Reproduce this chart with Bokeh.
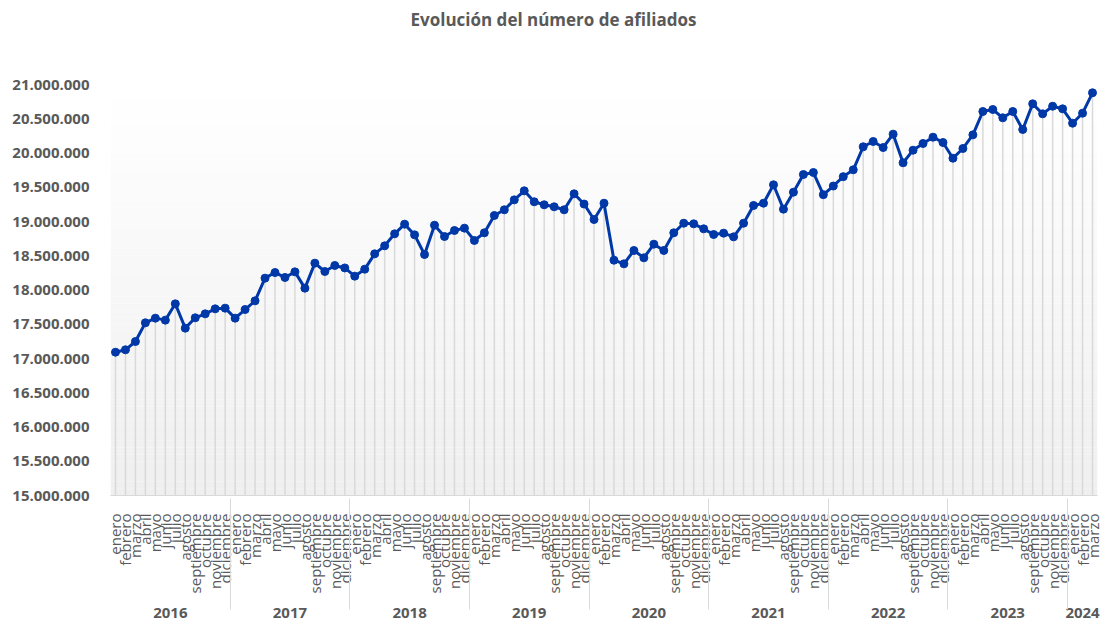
import math
from bokeh.plotting import figure
from bokeh.models import FactorRange, Range1d, FixedTicker, BoxAnnotation, Title
from bokeh.embed import file_html
from bokeh.resources import INLINE

years = ["2016", "2017", "2018", "2019", "2020", "2021", "2022", "2023", "2024"]
months = ["enero", "febrero", "marzo", "abril", "mayo", "junio", "julio", "agosto",
          "septiembre", "octubre", "noviembre", "diciembre"]

afiliados = [
    # 2016
    17092000, 17127000, 17248000, 17521000, 17589000, 17560000, 17798000, 17443000, 17594000, 17652000, 17725000, 17735000,
    # 2017
    17589000, 17715000, 17842000, 18173000, 18255000, 18183000, 18265000, 18027000, 18392000, 18270000, 18358000, 18322000,
    # 2018
    18202000, 18304000, 18528000, 18645000, 18820000, 18961000, 18805000, 18518000, 18946000, 18781000, 18869000, 18903000,
    # 2019
    18723000, 18835000, 19088000, 19171000, 19316000, 19448000, 19288000, 19244000, 19215000, 19171000, 19404000, 19255000,
    # 2020
    19029000, 19267000, 18435000, 18382000, 18577000, 18470000, 18669000, 18577000, 18835000, 18975000, 18966000, 18893000,
    # 2021
    18810000, 18830000, 18776000, 18975000, 19234000, 19267000, 19536000, 19180000, 19428000, 19686000, 19715000, 19392000,
    # 2022
    19518000, 19655000, 19755000, 20091000, 20168000, 20080000, 20275000, 19857000, 20041000, 20139000, 20231000, 20153000,
    # 2023
    19924000, 20066000, 20265000, 20606000, 20635000, 20514000, 20606000, 20343000, 20718000, 20572000, 20683000, 20645000,
    # 2024
    20435000, 20581000, 20879000,
]

y_ticks = [15000000, 15500000, 16000000, 16500000, 17000000, 17500000, 18000000,
           18500000, 19000000, 19500000, 20000000, 20500000, 21000000]
y_tick_labels = ["15.000.000", "15.500.000", "16.000.000", "16.500.000", "17.000.000",
                 "17.500.000", "18.000.000", "18.500.000", "19.000.000", "19.500.000",
                 "20.000.000", "20.500.000", "21.000.000"]

title_text = "Evolución del número de afiliados"

factors = [(y, m) for y in years for m in months][:len(afiliados)]

TEXT = "#595959"
BLUE = "#0038a8"
base = y_ticks[0]
top = y_ticks[-1]

p = figure(
    width=1104, height=626,
    x_range=FactorRange(*factors, factor_padding=0, group_padding=0, subgroup_padding=0, range_padding=0),
    y_range=Range1d(base, top),
    output_backend="svg", toolbar_location=None,
    min_border_left=110, min_border_right=7, min_border_top=84, min_border_bottom=131,
)
p.outline_line_color = None
p.background_fill_color = "white"
p.xgrid.grid_line_color = None
p.ygrid.grid_line_color = None

# gradient background of the plot area
nb = 60
for i in range(nb):
    b0 = base + (top - base) * i / nb
    b1 = base + (top - base) * (i + 1) / nb
    t = i / (nb - 1)
    c = int(round(0xef + (0xff - 0xef) * t))
    col = "#%02x%02x%02x" % (c, c, c)
    p.add_layout(BoxAnnotation(bottom=b0, top=b1, fill_color=col, fill_alpha=1.0,
                               line_color=None, level="underlay"))

p.segment(x0=factors, y0=[base] * len(factors), x1=factors, y1=afiliados,
          line_color="#d9d9d9", line_width=1.5)
p.line(factors, afiliados, line_color=BLUE, line_width=3)
p.scatter(factors, afiliados, size=8, fill_color=BLUE, line_color=BLUE)

# y axis
ya = p.yaxis[0]
ya.ticker = FixedTicker(ticks=y_ticks)
ya.major_label_overrides = {v: s for v, s in zip(y_ticks, y_tick_labels)}
ya.axis_line_color = None
ya.major_tick_line_color = None
ya.minor_tick_line_color = None
ya.major_label_text_font = "Open Sans"
ya.major_label_text_font_style = "bold"
ya.major_label_text_font_size = "15px"
ya.major_label_text_color = TEXT
ya.major_label_standoff = 15

# x axis
xa = p.xaxis[0]
xa.axis_line_color = "#d9d9d9"
xa.major_tick_line_color = None
xa.minor_tick_line_color = None
xa.major_label_orientation = math.pi / 2
xa.major_label_text_font = "Open Sans"
xa.major_label_text_font_size = "15px"
xa.major_label_text_color = TEXT
xa.major_label_standoff = 12
xa.group_text_font = "Open Sans"
xa.group_text_font_size = "15px"
xa.group_text_font_style = "bold"
xa.group_text_color = TEXT
xa.separator_line_color = "#d9d9d9"
xa.separator_line_width = 1

# empty spacer between the title and the plot area, then the title on top
p.add_layout(Title(text=" ", text_font_size="16px", standoff=33), "above")
p.add_layout(Title(text=title_text, align="left", offset=300, vertical_align="top",
                   text_font="Open Sans", text_font_size="17px", text_font_style="bold",
                   text_color=TEXT, standoff=0), "above")

open("out.html", "w").write(file_html(p, INLINE))
